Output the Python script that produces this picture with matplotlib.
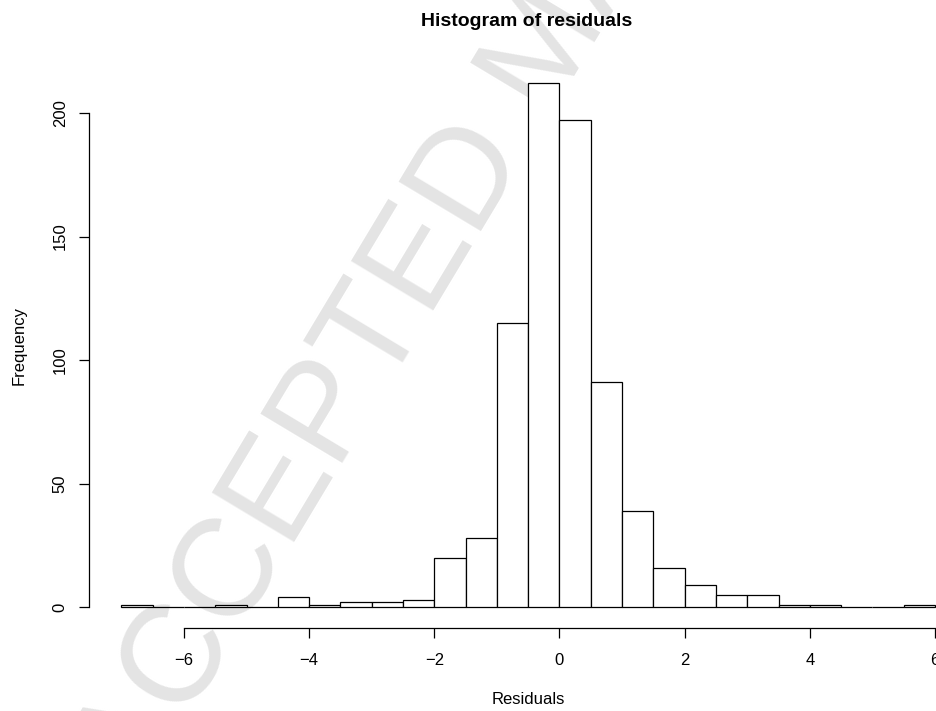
import matplotlib
matplotlib.use("Agg")
import matplotlib.pyplot as plt
import numpy as np

plt.rcParams['font.family'] = ['Liberation Sans', 'DejaVu Sans']

# bin edges (width 0.5, from -7 to 6) and counts
bin_left = [-7.0, -6.5, -6.0, -5.5, -5.0, -4.5, -4.0, -3.5, -3.0, -2.5, -2.0, -1.5, -1.0,
            -0.5, 0.0, 0.5, 1.0, 1.5, 2.0, 2.5, 3.0, 3.5, 4.0, 4.5, 5.0, 5.5]
counts = [1, 0, 0, 1, 0, 4, 1, 2, 2, 3, 20, 28, 115,
          212, 197, 91, 39, 16, 9, 5, 5, 1, 1, 0, 0, 1]
bin_width = 0.5
x_ticks = [-6, -4, -2, 0, 2, 4, 6]
y_ticks = [0, 50, 100, 150, 200]

W, H = 937, 711
fig = plt.figure(figsize=(W / 100, H / 100), dpi=100)

# watermark
fig.text(548 / W, 1 - 50 / H, "ACCEPTED MANUSCRIPT", rotation=59, rotation_mode='anchor',
         ha='center', va='center', fontsize=100, color='#e4e4e4', zorder=0)

left_px, right_px = 88.8, 967.6
bottom_px, top_px = 628.0, 62.4
ax = fig.add_axes([left_px / W, 1 - bottom_px / H, (right_px - left_px) / W, (bottom_px - top_px) / H])
ax.patch.set_alpha(0)
ax.set_zorder(2)

ax.bar(bin_left, counts, width=bin_width, align='edge', facecolor='white',
       edgecolor='black', linewidth=0.9)

xmin, xmax = bin_left[0], bin_left[-1] + bin_width
ax.set_xlim(xmin - 0.04 * (xmax - xmin), xmax + 0.04 * (xmax - xmin))
ymax = max(counts)
ax.set_ylim(-0.04 * ymax, ymax * 1.04)

for s in ['top', 'right']:
    ax.spines[s].set_visible(False)
ax.spines['left'].set_bounds(y_ticks[0], y_ticks[-1])
ax.spines['bottom'].set_bounds(x_ticks[0], x_ticks[-1])
ax.spines['left'].set_linewidth(0.9)
ax.spines['bottom'].set_linewidth(0.9)

ax.set_xticks(x_ticks)
ax.set_xticklabels([str(v).replace('-', '\u2212') for v in x_ticks])
ax.set_yticks(y_ticks)
ax.set_yticklabels([str(v) for v in y_ticks], rotation=90, va='center')
ax.tick_params(axis='both', length=7.2, width=0.9, labelsize=12)
ax.tick_params(axis='x', pad=11)
ax.tick_params(axis='y', pad=8)

ax.set_xlabel("Residuals", fontsize=12, labelpad=17)
ax.set_ylabel("Frequency", fontsize=12, labelpad=19)
fig.text(527 / W, 1 - 21 / H, "Histogram of residuals", ha='center', va='center',
         fontsize=14, fontweight='bold')

fig.savefig("out.png", dpi=100)
